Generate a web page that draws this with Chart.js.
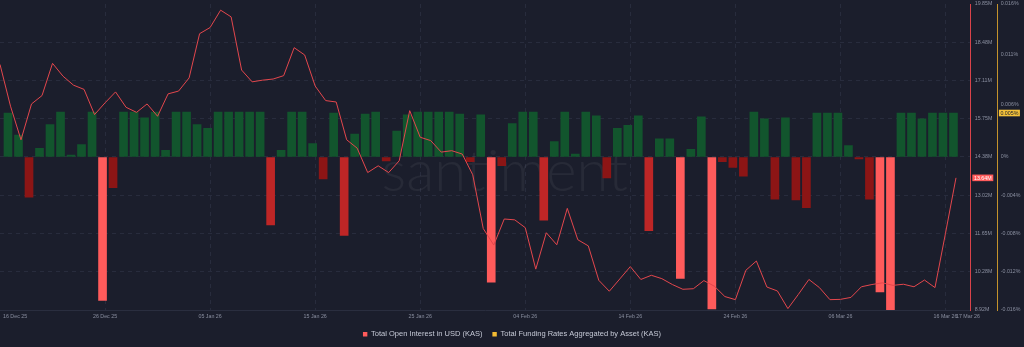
<!DOCTYPE html>
<html>
<head>
<meta charset="utf-8">
<script src="https://cdn.jsdelivr.net/npm/chart.js@4.4.1/dist/chart.umd.min.js"></script>
<style>
  html, body { margin: 0; padding: 0; background: #1b1e2c; }
  #wrap { position: relative; width: 1024px; height: 347px; }
</style>
</head>
<body>
<div id="wrap"><canvas id="kasChart"></canvas></div>
<script>
// Daily open interest (USD millions) and aggregated funding rate (%), 16 Dec 25 .. 17 Mar 26
const openInterestM = [
  17.69, 16.20, 15.00, 16.28, 16.58, 17.73, 17.27, 16.95, 16.80, 15.90,
  16.32, 16.71, 16.16, 15.98, 16.28, 15.84, 16.64, 16.74, 17.21, 18.79,
  19.01, 19.63, 19.39, 17.49, 17.07, 17.13, 17.17, 17.29, 18.29, 18.03,
  16.92, 16.40, 16.35, 15.00, 14.70, 13.83, 14.07, 13.83, 14.25, 16.04,
  15.09, 14.97, 14.56, 14.61, 14.49, 13.75, 11.83, 11.24, 12.17, 12.14,
  11.86, 10.38, 11.68, 11.25, 12.55, 11.43, 11.21, 9.98, 9.59, 10.03,
  10.47, 10.01, 10.16, 10.04, 9.83, 9.66, 9.68, 9.97, 9.77, 9.40,
  9.29, 10.34, 10.67, 9.74, 9.60, 8.97, 9.48, 10.01, 9.72, 9.29,
  9.30, 9.37, 9.75, 9.83, 9.89, 9.80, 9.84, 9.75, 9.99, 9.72,
  11.66, 13.64
];
const fundingRate = [
  0.0046, 0.0023, -0.0042, 0.0009, 0.0034, 0.0047, 0.0002, 0.0013, 0.0047, -0.0150,
  -0.0032, 0.0047, 0.0047, 0.0041, 0.0047, 0.0007, 0.0047, 0.0047, 0.0034, 0.0030,
  0.0047, 0.0047, 0.0047, 0.0047, 0.0047, -0.0071, 0.0007, 0.0047, 0.0047, 0.0014,
  -0.0023, 0.0046, -0.0082, 0.0024, 0.0045, 0.0047, -0.0004, 0.0027, 0.0044, 0.0047,
  0.0047, 0.0047, 0.0047, 0.0045, -0.0005, 0.0044, -0.0131, -0.0009, 0.0035, 0.0047,
  0.0047, -0.0066, 0.0016, 0.0047, 0.0003, 0.0047, 0.0043, -0.0022, 0.0030, 0.0033,
  0.0043, -0.0077, 0.0019, 0.0019, -0.0127, 0.0008, 0.0042, -0.0159, -0.0005, -0.0011,
  -0.0020, 0.0047, 0.0040, -0.0044, 0.0041, -0.0045, -0.0053, 0.0046, 0.0046, 0.0046,
  0.0012, -0.0002, -0.0044, -0.0141, -0.0160, 0.0046, 0.0046, 0.0040, 0.0046, 0.0046,
  0.0046, null
];
const dateTicks = [0, 10, 20, 30, 40, 50, 60, 70, 80, 90, 91];
const dateTickLabels = ['16 Dec 25', '26 Dec 25', '05 Jan 26', '15 Jan 26', '25 Jan 26',
  '04 Feb 26', '14 Feb 26', '24 Feb 26', '06 Mar 26', '16 Mar 26', '17 Mar 26'];
const oiTickLabels = ['8.92M', '10.28M', '11.65M', '13.02M', '14.38M', '15.75M', '17.11M', '18.48M', '19.85M'];
const fundingTicks = [-0.016, -0.012, -0.008, -0.004, 0, 0.0055, 0.0107, 0.016];
const fundingTickLabels = ['-0.016%', '-0.012%', '-0.008%', '-0.004%', '0%', '0.006%', '0.011%', '0.016%'];
const seriesNames = ['Total Open Interest in USD (KAS)', 'Total Funding Rates Aggregated by Asset (KAS)'];

const OI_MIN = 8.92, OI_MAX = 19.85;
const FR_MIN = -0.016, FR_MAX = 0.016;
const X_MAX = 92.4;      // leaves a little room after the last day
const BAR_SHIFT = 0.38;  // bars sit just right of their day

const colors = {
  grid: '#282c3d',
  tick: '#8a8fa0',
  line: '#e3474d',
  oiAxis: '#d9434a',
  frAxis: '#c4932c',
  green: '#12552d',
  darkRed: '#8c1515',
  red: '#be2626',
  pink: '#ff5b5b',
  legendOi: '#ff5b5b',
  legendFr: '#f3bb33'
};
const tickFont = { family: 'Liberation Sans', size: 5.3 };

function barColor(v) {
  if (v == null || v >= 0) return colors.green;
  if (v > -0.006) return colors.darkRed;
  if (v > -0.01) return colors.red;
  return colors.pink;
}

const decor = {
  id: 'decor',
  beforeDatasetsDraw(chart) {
    const { ctx, chartArea } = chart;
    ctx.save();
    ctx.font = '300 58px Lato';
    ctx.fillStyle = 'rgba(255,255,255,0.055)';
    ctx.textAlign = 'center';
    ctx.fillText('santiment', chartArea.left + chartArea.width * 0.52, 172);
    ctx.restore();
  },
  afterDraw(chart) {
    const { ctx, chartArea, scales } = chart;
    ctx.save();
    // date labels
    ctx.font = tickFont.size + 'px ' + tickFont.family;
    ctx.fillStyle = colors.tick;
    ctx.textBaseline = 'middle';
    ctx.textAlign = 'left';
    dateTicks.forEach((v, i) => {
      const label = dateTickLabels[i];
      const px = scales.x.getPixelForValue(v);
      const w = ctx.measureText(label).width;
      let left = px - w / 2;
      if (i === 0) left = Math.max(left, 3);
      if (i === dateTicks.length - 1) left = px;
      ctx.fillText(label, left, chartArea.bottom + 6.5);
    });

    // value badges for the latest points
    const lastOi = openInterestM[openInterestM.length - 1];
    let lastFr = null;
    for (let i = fundingRate.length - 1; i >= 0; i--) {
      if (fundingRate[i] != null) { lastFr = fundingRate[i]; break; }
    }
    const badge = (scale, y, text, fill, color) => {
      const x0 = scale.left + 1.6;
      ctx.fillStyle = fill;
      ctx.fillRect(x0, y - 3.3, 21, 6.6);
      ctx.fillStyle = color;
      ctx.textAlign = 'center';
      ctx.fillText(text, x0 + 10.5, y + 0.3);
    };
    badge(scales.yOi, scales.yOi.getPixelForValue(lastOi), lastOi.toFixed(2) + 'M', colors.pink, '#ffffff');
    badge(scales.yFr, scales.yFr.getPixelForValue(lastFr), lastFr.toFixed(3) + '%', '#f3c13a', '#1b1e2c');
    ctx.restore();
  }
};

const ctx = document.getElementById('kasChart').getContext('2d');
new Chart(ctx, {
  data: {
    datasets: [
      {
        type: 'line',
        label: seriesNames[0],
        data: openInterestM.map((v, i) => ({ x: i, y: v })),
        xAxisID: 'x',
        yAxisID: 'yOi',
        borderColor: colors.line,
        borderWidth: 1,
        pointRadius: 0,
        tension: 0,
        order: 0
      },
      {
        type: 'bar',
        label: seriesNames[1],
        data: fundingRate.map((v, i) => ({ x: i, y: v })),
        xAxisID: 'xb',
        yAxisID: 'yFr',
        backgroundColor: c => barColor(c.raw && c.raw.y),
        barThickness: 8,
        order: 1
      }
    ]
  },
  options: {
    responsive: true,
    maintainAspectRatio: false,
    animation: false,
    devicePixelRatio: 1,
    layout: { padding: { top: 4, bottom: -1, left: 0, right: 0 } },
    plugins: {
      tooltip: { enabled: false },
      legend: {
        position: 'bottom',
        labels: {
          color: '#c5c9d6',
          font: { family: 'Liberation Sans', size: 7.5 },
          boxWidth: 4.4,
          boxHeight: 4.4,
          padding: 10,
          generateLabels: () => seriesNames.map((t, i) => ({
            text: t,
            fillStyle: i === 0 ? colors.legendOi : colors.legendFr,
            strokeStyle: i === 0 ? colors.legendOi : colors.legendFr,
            lineWidth: 0,
            fontColor: '#c5c9d6',
            hidden: false,
            datasetIndex: i
          }))
        }
      }
    },
    scales: {
      x: {
        type: 'linear',
        min: 0,
        max: X_MAX,
        afterBuildTicks: s => { s.ticks = dateTicks.map(v => ({ value: v })); },
        afterFit: s => { s.height = 10.5; },
        ticks: { display: false },
        grid: {
          drawTicks: false,
          color: c => (c.tick && c.tick.value % 10 === 0 && c.tick.value > 0) ? colors.grid : 'transparent'
        },
        border: { color: '#2a2e3f', dash: [4, 4] }
      },
      xb: {
        type: 'linear',
        display: false,
        offset: false,
        grid: { offset: false },
        min: -BAR_SHIFT,
        max: X_MAX - BAR_SHIFT
      },
      yOi: {
        position: 'right',
        weight: 0,
        min: OI_MIN,
        max: OI_MAX,
        afterBuildTicks: s => {
          s.ticks = oiTickLabels.map((_, i) => ({ value: OI_MIN + i * (OI_MAX - OI_MIN) / (oiTickLabels.length - 1) }));
        },
        afterFit: s => { s.width = 26.6; },
        ticks: {
          color: colors.tick,
          font: tickFont,
          padding: 0,
          callback: (v, i) => oiTickLabels[i]
        },
        grid: {
          tickLength: 4,
          tickColor: 'transparent',
          color: c => (c.index === 0 || c.index === oiTickLabels.length - 1) ? 'transparent' : colors.grid
        },
        border: { color: colors.oiAxis, width: 1, dash: [4, 4] }
      },
      yFr: {
        position: 'right',
        weight: 1,
        min: FR_MIN,
        max: FR_MAX,
        afterBuildTicks: s => { s.ticks = fundingTicks.map(v => ({ value: v })); },
        afterFit: s => { s.width = 26.7; },
        ticks: {
          color: colors.tick,
          font: tickFont,
          padding: 0,
          callback: (v, i) => fundingTickLabels[i]
        },
        grid: { drawOnChartArea: false, tickLength: 3.4, tickColor: 'transparent' },
        border: { color: colors.frAxis, width: 1 }
      }
    }
  },
  plugins: [decor]
});
</script>
</body>
</html>
